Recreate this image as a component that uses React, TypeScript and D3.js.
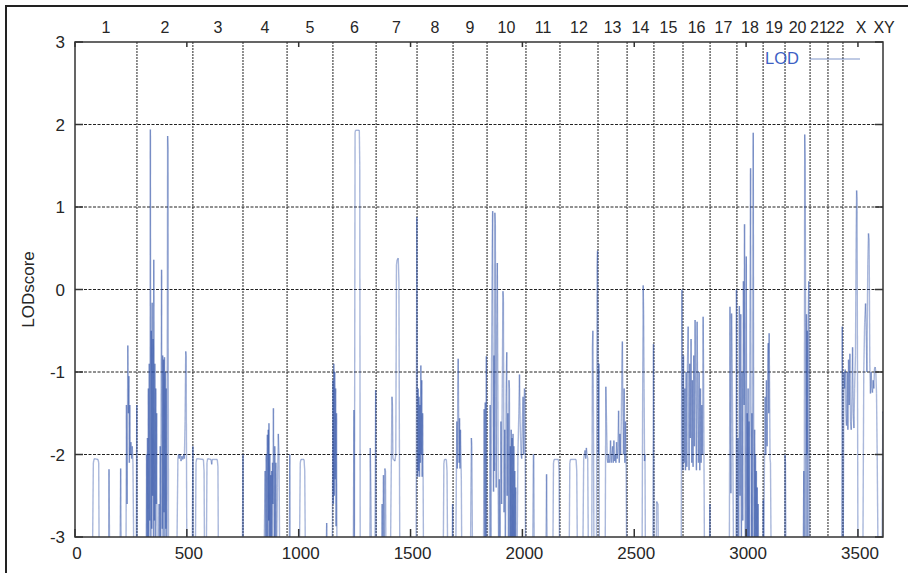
import React from 'react';
import * as d3 from 'd3';

const width = 908;
const height = 573;
const margins = { top: 42, right: 25, bottom: 36, left: 75 };

// chromosome names and where each one starts on the x axis
const chromNames = ['1', '2', '3', '4', '5', '6', '7', '8', '9', '10', '11', '12', '13', '14', '15', '16', '17', '18', '19', '20', '21', '22', 'X', 'XY'];
const chromStarts = [0, 277, 527, 751, 948, 1153, 1346, 1529, 1690, 1842, 2016, 2168, 2338, 2468, 2588, 2718, 2839, 2959, 3076, 3174, 3286, 3366, 3433, 3594, 3640];

const xTicks = [0, 500, 1000, 1500, 2000, 2500, 3000, 3500];
const yTicks = [-3, -2, -1, 0, 1, 2, 3];

// [position, LOD score] (values under -3 are clipped)
const lodTrace: [number, number][] = [
  // chr1
  [0, -3.3], [78, -3.3], [82, -2.1], [86, -2.05], [103, -2.06], [106, -2.1], [108, -3.3], [150, -3.3], [152, -2.18], [155, -3.3],
  [201, -3.3], [204, -2.17], [207, -3.3], [228, -3.3], [230, -1.4], [233, -2.6], [236, -0.68], [239, -1.5], [241, -1.05], [243, -2.1],
  [245, -1.4], [247, -2.0], [250, -1.85], [253, -2.05], [256, -1.9], [259, -2.1], [263, -3.3], [274, -3.3], [276, -1.4], [278, -3.3],
  // chr2
  [318, -3.3], [320, -2.0], [322, -3.3], [324, -1.8], [326, -3.3], [328, -1.2], [330, -3.0], [332, -0.9], [334, -2.8], [336, -0.4],
  [337, 1.94], [338, -0.2], [339, -3.3], [341, -0.5], [343, -2.9], [345, -0.16], [347, -2.5], [349, -0.6], [351, -3.3], [352, 0.36],
  [353, -0.7], [355, -2.8], [357, -0.9], [359, -3.3], [361, -1.2], [363, -2.6], [365, -1.5], [367, -3.3], [372, -3.3], [376, -2.6],
  [379, -3.3], [381, -1.9], [383, -3.0], [385, -1.2], [387, 0.24], [388, -1.0], [390, -2.9], [392, -0.8], [394, -3.3], [396, -0.85],
  [398, -2.7], [400, -0.82], [402, -3.3], [404, -1.0], [406, -2.9], [408, -1.2], [410, -3.3], [412, -1.5], [414, 1.86], [416, 1.7],
  [418, -3.3], [455, -3.3], [460, -2.05], [463, -2.0], [466, -2.05], [470, -2.0], [474, -2.08], [478, -2.02], [482, -2.06], [486, -2.0],
  [489, -2.05], [492, -1.6], [495, -0.75], [497, -0.8], [500, -3.3], [524, -3.3], [527, -1.9], [529, -3.3],
  // chr3
  [538, -3.3], [541, -2.1], [544, -2.05], [574, -2.06], [577, -2.2], [579, -3.3], [587, -3.3], [590, -2.1], [593, -2.05], [608, -2.06],
  [611, -2.12], [614, -2.06], [636, -2.06], [639, -2.15], [641, -3.3], [748, -3.3], [751, -2.0], [753, -3.3],
  // chr4
  [845, -3.3], [850, -2.2], [852, -3.3], [855, -2.0], [857, -3.0], [860, -1.76], [862, -3.3], [864, -1.7], [866, -2.8], [867, -1.62],
  [869, -3.3], [871, -2.0], [873, -3.2], [875, -2.25], [877, -3.3], [879, -2.2], [881, -3.0], [883, -2.1], [885, -2.6], [887, -1.44],
  [889, -2.4], [891, -3.3], [893, -1.9], [895, -3.0], [898, -2.1], [901, -3.3], [905, -2.4], [909, -1.75], [912, -2.0], [915, -3.3],
  [958, -3.3], [960, -2.0], [962, -3.3],
  // chr5
  [1003, -3.3], [1007, -2.1], [1010, -2.06], [1024, -2.06], [1027, -2.2], [1030, -3.3], [1122, -3.3], [1125, -2.83], [1128, -3.3],
  [1148, -3.3], [1151, -2.87], [1153, -1.1], [1155, -2.6], [1157, -0.9], [1159, -2.5], [1161, -1.0], [1163, -2.3], [1165, -1.2],
  [1167, -2.87], [1169, -1.5], [1171, -3.3],
  // chr6
  [1244, -3.3], [1247, -1.46], [1249, -3.3], [1252, 1.9], [1254, 1.93], [1271, 1.93], [1273, 1.5], [1275, -3.3], [1318, -3.3],
  [1320, -1.92], [1323, -2.5], [1325, -3.3], [1341, -3.3], [1344, -1.22], [1347, -3.3],
  // chr7
  [1370, -3.3], [1373, -2.6], [1376, -3.3], [1379, -2.25], [1382, -3.3], [1385, -2.17], [1388, -2.2], [1390, -3.3], [1410, -3.3],
  [1414, -2.1], [1417, -1.3], [1419, -1.4], [1421, -2.05], [1430, -2.08], [1434, -2.0], [1437, 0.3], [1440, 0.36], [1445, 0.38],
  [1448, 0.1], [1450, -1.7], [1452, -3.3], [1525, -3.3], [1528, 0.88], [1530, -1.0], [1532, -2.27], [1534, -1.2], [1536, -2.2],
  [1538, -1.3], [1540, -2.27], [1542, -1.4], [1544, -2.1], [1546, -0.92], [1548, -2.0], [1550, -1.1], [1552, -2.27], [1554, -1.5],
  [1556, -2.2], [1558, -3.3],
  // chr8
  [1646, -3.3], [1649, -2.1], [1652, -2.06], [1660, -2.06], [1663, -2.2], [1666, -3.3], [1686, -3.3], [1688, -2.6], [1690, -3.3],
  // chr9
  [1702, -3.3], [1705, -2.2], [1707, -1.6], [1709, -2.17], [1711, -1.3], [1713, -0.84], [1715, -1.5], [1717, -2.1], [1719, -1.56],
  [1721, -2.17], [1723, -1.7], [1725, -2.0], [1727, -2.3], [1729, -3.3], [1768, -3.3], [1770, -2.4], [1772, -1.8], [1774, -1.9],
  [1777, -3.3], [1826, -3.3], [1829, -1.45], [1832, -3.3], [1834, -1.37], [1836, -3.3], [1839, -0.81], [1841, -3.3],
  // chr10
  [1852, -3.3], [1856, -1.4], [1859, -3.3], [1862, -1.0], [1865, 0.5], [1867, 0.95], [1869, -1.3], [1871, -2.45], [1873, -0.8],
  [1875, -2.2], [1877, 0.93], [1879, 0.8], [1881, -1.3], [1883, -2.4], [1885, -0.6], [1888, 0.32], [1890, -1.0], [1892, -2.5],
  [1894, -3.3], [1897, -2.3], [1900, -3.3], [1904, -1.6], [1907, -2.6], [1910, -1.2], [1913, -0.02], [1915, -0.1], [1918, -2.7],
  [1921, -1.7], [1924, -3.3], [1927, -1.3], [1930, -0.76], [1932, -2.5], [1935, -1.5], [1938, -3.3], [1940, -1.1], [1942, -1.2],
  [1944, -3.3], [1946, -1.9], [1948, -3.3], [1950, -1.7], [1952, -3.3], [1954, -1.8], [1956, -3.3], [1958, -1.75], [1960, -3.3],
  [1962, -1.9], [1964, -3.3], [1966, -2.2], [1968, -3.3], [1970, -2.4], [1972, -3.3], [1976, -3.3], [1980, -2.0], [1984, -1.5],
  [1987, -1.03], [1990, -1.6], [1994, -2.0], [1997, -2.05], [2000, -1.6], [2003, -1.3], [2006, -2.0], [2009, -1.2], [2012, -1.25],
  [2014, -3.3],
  // chr11
  [2046, -3.3], [2049, -2.0], [2051, -2.0], [2053, -3.3], [2105, -3.3], [2108, -2.24], [2111, -3.3], [2136, -3.3], [2139, -2.1],
  [2142, -2.06], [2161, -2.06], [2164, -2.2], [2166, -3.3],
  // chr12
  [2209, -3.3], [2212, -2.1], [2215, -2.06], [2240, -2.06], [2243, -2.2], [2246, -3.3], [2270, -3.3], [2274, -2.05], [2277, -2.0],
  [2280, -1.95], [2283, -2.05], [2286, -1.92], [2289, -2.0], [2292, -2.05], [2295, -3.3], [2310, -3.3], [2313, -0.7], [2315, -0.5],
  [2317, -1.2], [2320, -3.3], [2331, -3.3], [2334, 0.3], [2336, 0.47], [2338, -0.7], [2340, -2.0], [2342, -0.9], [2344, -3.3],
  // chr13
  [2370, -3.3], [2373, -1.18], [2376, -1.6], [2379, -2.05], [2382, -2.1], [2385, -2.0], [2388, -2.1], [2391, -2.05], [2394, -1.83],
  [2397, -2.1], [2400, -2.0], [2403, -1.9], [2406, -2.1], [2409, -1.83], [2412, -2.08], [2415, -2.0], [2418, -2.1], [2421, -1.85],
  [2424, -2.05], [2427, -1.9], [2430, -1.47], [2433, -2.1], [2436, -1.75], [2439, -2.0], [2442, -1.6], [2445, -0.9], [2447, -0.63],
  [2449, -1.4], [2452, -2.0], [2455, -1.2], [2458, -2.1], [2461, -1.6], [2464, -2.2], [2466, -3.3],
  // chr14
  [2535, -3.3], [2538, -1.0], [2540, 0.05], [2542, -0.3], [2544, -1.2], [2546, -2.08], [2548, -2.0], [2550, -3.3], [2583, -3.3],
  [2586, -0.66], [2589, -3.3], [2598, -3.3], [2600, -2.57], [2606, -2.6], [2608, -3.3],
  // chr15 / chr16
  [2710, -3.3], [2713, 0.0], [2715, -1.9], [2717, -2.19], [2720, -0.8], [2723, -2.1], [2726, -1.2], [2729, -2.19], [2732, -1.0],
  [2735, -2.15], [2738, -0.9], [2741, -0.45], [2743, -1.3], [2745, -2.19], [2748, -0.9], [2751, -1.8], [2754, -0.6], [2757, -2.1],
  [2760, -1.1], [2763, -2.15], [2766, -0.8], [2769, -1.9], [2772, -0.37], [2775, -1.3], [2778, -2.19], [2781, -0.39], [2784, -1.5],
  [2787, -2.1], [2790, -1.0], [2793, -2.19], [2796, -1.2], [2799, -2.1], [2802, -1.4], [2805, -2.0], [2808, -0.33], [2810, -1.0],
  [2812, -2.2], [2814, -3.3], [2836, -3.3], [2838, -2.6], [2840, -3.3],
  // chr17
  [2925, -3.3], [2928, -0.21], [2930, -1.5], [2932, -2.47], [2935, -0.29], [2938, -1.0], [2941, -2.1], [2944, -3.3], [2955, -3.3],
  [2957, 0.0], [2959, -3.3],
  // chr18
  [2961, -3.3], [2964, -1.8], [2967, -3.3], [2970, -0.2], [2973, -2.5], [2976, -0.3], [2979, -3.3], [2982, -1.0], [2985, -2.8],
  [2988, 0.1], [2991, -1.4], [2993, 0.79], [2995, -2.0], [2997, -3.3], [2999, -1.3], [3001, 0.4], [3003, -3.3], [3005, -1.5],
  [3007, -3.3], [3009, -1.2], [3011, -3.3], [3013, -1.6], [3015, -3.3], [3017, -0.5], [3020, 1.47], [3022, -1.4], [3024, -3.3],
  [3026, -1.5], [3028, -3.3], [3030, -1.0], [3032, 1.9], [3034, -1.9], [3036, -3.3], [3038, -1.7], [3040, -3.3], [3042, -2.0],
  [3044, -3.3], [3046, -2.2], [3048, -3.3], [3050, -2.4], [3052, -3.3], [3054, -2.6], [3056, -3.3],
  // chr19
  [3074, -3.3], [3077, -2.55], [3079, -3.3], [3082, -2.1], [3085, -1.3], [3088, -2.0], [3091, -1.1], [3094, -1.9], [3097, -0.9],
  [3099, -0.65], [3101, -1.5], [3103, -0.53], [3105, -1.2], [3107, -2.05], [3109, -2.1], [3112, -3.3], [3172, -3.3], [3174, -2.0],
  [3176, -2.1], [3178, -3.3],
  // chr20
  [3255, -3.3], [3258, -2.2], [3260, -3.3], [3262, 1.88], [3264, 1.6], [3266, -0.4], [3268, -3.3], [3270, -0.3], [3272, -2.0],
  [3274, -0.5], [3276, -3.3], [3278, -0.35], [3280, 0.1], [3282, -0.6], [3284, -3.3],
  // X
  [3427, -3.3], [3430, -0.45], [3432, -2.0], [3434, -3.3], [3437, -1.0], [3440, -1.2], [3443, -0.97], [3446, -1.5], [3449, -1.65],
  [3452, -1.0], [3455, -1.7], [3458, -0.85], [3461, -1.4], [3464, -0.78], [3467, -1.6], [3470, -1.7], [3473, -1.3], [3476, -0.7],
  [3479, -1.5], [3482, -1.68], [3485, -1.2], [3489, -0.8], [3492, 0.6], [3494, 1.2], [3496, 1.1], [3498, -1.0], [3500, -3.3],
  [3522, -3.3], [3526, -1.0], [3530, -0.4], [3534, -0.17], [3537, -0.5], [3540, -1.0], [3544, 0.3], [3547, 0.68], [3550, 0.6],
  [3553, -0.9], [3556, -1.26], [3559, -1.0], [3562, -1.2], [3565, -1.25], [3568, -1.1], [3571, -1.2], [3574, -0.96], [3577, -0.94],
  [3580, -1.0], [3583, -1.26], [3586, -2.0], [3590, -3.3], [3608, -3.3], [3611, -1.48], [3612, -1.5],
];

const lineColor = '#2b4ea6';
const textColor = '#262626';
const font = 'Liberation Sans, Arial, sans-serif';

export default function App() {
  const xScale = d3.scaleLinear().domain([0, 3612]).range([margins.left, width - margins.right]);
  const yScale = d3.scaleLinear().domain([-3, 3]).range([height - margins.bottom, margins.top]);
  const [x0, x1] = xScale.range();
  const [y0, y1] = yScale.range();

  const segments = d3.pairs(lodTrace);
  const mids = chromNames.map((c, i) => (chromStarts[i] + chromStarts[i + 1]) / 2);

  return (
    <svg width={width} height={height} style={{ position: 'absolute', left: 0, top: 0, background: '#fff' }}>
      <defs>
        <clipPath id="plot">
          <rect x={x0} y={y1} width={x1 - x0} height={y0 - y1} />
        </clipPath>
      </defs>

      {/* frame round the picture */}
      <line x1={5} y1={6} x2={width} y2={6} stroke="#222" strokeWidth={2} />
      <line x1={6} y1={5} x2={6} y2={height} stroke="#222" strokeWidth={2} />

      {/* grid */}
      {yTicks.slice(1, -1).map((t) => (
        <line key={'h' + t} x1={x0} x2={x1} y1={yScale(t)} y2={yScale(t)} stroke="#222" strokeWidth={1} strokeDasharray="3,1.5" />
      ))}
      {chromStarts.slice(1, 23).map((s) => (
        <line key={'v' + s} x1={xScale(s)} x2={xScale(s)} y1={y1} y2={y0} stroke="#222" strokeWidth={1} strokeDasharray="2,1" />
      ))}

      {/* LOD trace */}
      <g clipPath="url(#plot)">
        {segments.map(([a, b], i) => (
          <line key={i} x1={xScale(a[0])} y1={yScale(a[1])} x2={xScale(b[0])} y2={yScale(b[1])}
            stroke={lineColor} strokeOpacity={0.4} strokeWidth={1.4} />
        ))}
      </g>

      {/* border and ticks */}
      <rect x={x0} y={y1} width={x1 - x0} height={y0 - y1} fill="none" stroke="#333" strokeWidth={1.5} />
      {yTicks.map((t) => (
        <g key={'yt' + t}>
          <line x1={x0} x2={x0 + 8} y1={yScale(t)} y2={yScale(t)} stroke="#333" strokeWidth={1.5} />
          <line x1={x1 - 8} x2={x1} y1={yScale(t)} y2={yScale(t)} stroke="#333" strokeWidth={1.5} />
          <text x={x0 - 10} y={yScale(t) + 6} textAnchor="end" fontFamily={font} fontSize={17} fill={textColor}>{t}</text>
        </g>
      ))}
      {xTicks.map((t) => (
        <g key={'xt' + t}>
          <line x1={xScale(t)} x2={xScale(t)} y1={y0} y2={y0 - 8} stroke="#333" strokeWidth={1.5} />
          <line x1={xScale(t)} x2={xScale(t)} y1={y1} y2={y1 + 5} stroke="#333" strokeWidth={1.5} />
          <text x={xScale(t) + 2} y={y0 + 22} textAnchor="middle" fontFamily={font} fontSize={17} fill={textColor}>{t}</text>
        </g>
      ))}

      {/* chromosome labels on top */}
      {chromNames.map((c, i) => (
        <text key={'c' + c} x={xScale(mids[i])} y={33} textAnchor="middle" fontFamily={font} fontSize={16} fill={textColor}>{c}</text>
      ))}

      {/* axis title */}
      <text transform={`translate(34,${(y0 + y1) / 2}) rotate(-90)`} textAnchor="middle" fontFamily={font} fontSize={17} fill={textColor}>LODscore</text>

      {/* legend */}
      <text x={799} y={64} textAnchor="end" fontFamily={font} fontSize={16.5} fill="#3d5fc4">LOD</text>
      <line x1={810} x2={860} y1={59} y2={59} stroke={lineColor} strokeOpacity={0.4} strokeWidth={1.4} />
    </svg>
  );
}
